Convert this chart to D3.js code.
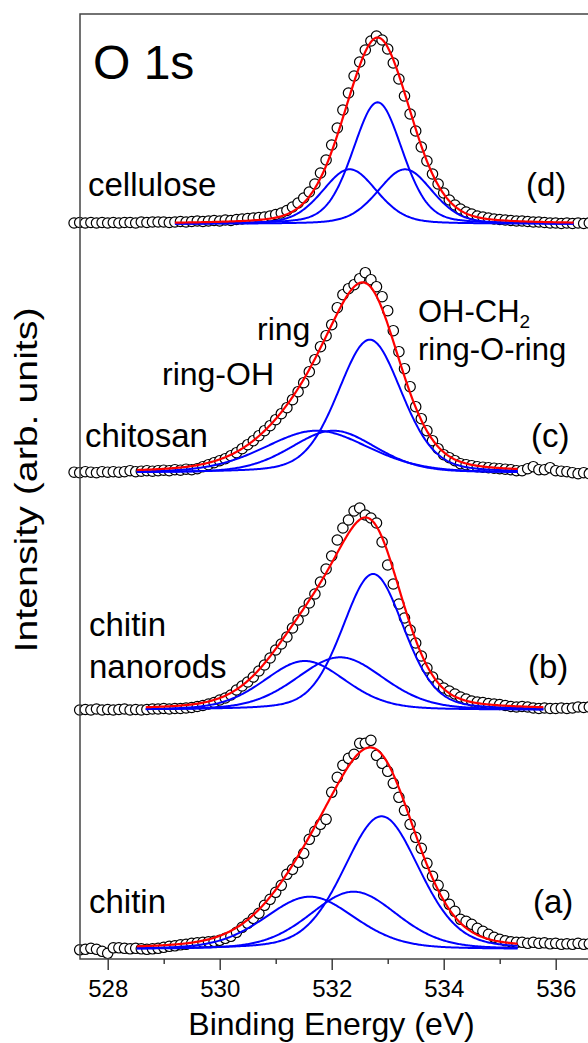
<!DOCTYPE html>
<html><head><meta charset="utf-8">
<script src="https://cdn.jsdelivr.net/npm/d3@7"></script>
<style>
html,body{margin:0;padding:0;background:#fff;overflow:hidden}
svg{display:block}
text{font-family:"Liberation Sans",Arial,Helvetica,sans-serif;fill:#000}
</style></head><body>
<svg id="chart" width="588" height="1043"></svg>
<script>
// ---- data (binding energy in eV, intensity in arb. units above each trace's own baseline)
const energies = [527.4,527.5,527.6,527.7,527.8,527.9,528.0,528.1,
528.2,528.3,528.4,528.5,528.6,528.7,528.8,528.9,529.0,529.1,
529.2,529.3,529.4,529.5,529.6,529.7,529.8,529.9,530.0,530.1,
530.2,530.3,530.4,530.5,530.6,530.7,530.8,530.9,531.0,531.1,
531.2,531.3,531.4,531.5,531.6,531.7,531.8,531.9,532.0,532.1,
532.2,532.3,532.4,532.5,532.6,532.7,532.8,532.9,533.0,533.1,
533.2,533.3,533.4,533.5,533.6,533.7,533.8,533.9,534.0,534.1,
534.2,534.3,534.4,534.5,534.6,534.7,534.8,534.9,535.0,535.1,
535.2,535.3,535.4,535.5,535.6,535.7,535.8,535.9,536.0,536.1,
536.2,536.3,536.4,536.5,536.6];

const chitinData = [null,-0.5,0,1,0,-2,-4,1.5,
1.5,1,0.5,1,0.5,0,0.5,1,2,3,
3.5,4.5,5,6,6.5,7,7.5,8,9,11,
13,17,22,26,31,36,44,50,57,64,
75,80,87,96,110,118,125,130,157,172,
184,191,195,206,206,209,194,186,178,166,
152,139,125,112,101,86,73,64,54,45,
38,30,28,25,21,18,15,12,10,8.5,
7.5,7,7,6,7,6,6.5,5.5,6,5,
5.5,5,6,5,5.5];

const nanorodsData = [null,0,0.5,0,1,0,0.5,0,
0.5,1,0,0.5,0,0.5,1,1,1.5,1,
1.5,1.5,2,2.5,3.5,4.5,6,7.5,10,12,
15,20,24,28,33,39,45,52,60,66,
73,82,90,99,107,116,128,141,154,170,
182,190,199,202,195,192,187,168,145,126,
106,92,80,67,54,42,33,26,22,19,
16,13,11,9,8,7.5,6.5,6,5.5,4.5,
3.5,3,3.5,3,2,1.5,2,1.5,1.5,2,
1.5,2,3,2.5,3];

const chitosanData = [0.5,0,1,0.5,0,1,0.5,1,
0.5,1,2,1,1.5,2,1.5,2,2.5,2,
3,2.5,3.5,3,4,6,8,10,12,14,
17,20,24,28,32,37,42,47,53,59,
65,73,81,90,101,113,126,137,148,165,
178,184,188,194,200,193,186,176,162,142,
121,104,86,66,54,42,32,24,18,15,
12,9,8,7,6,5.5,5,4.5,4,3.5,
3,2,2,4,6,3,3,5,2,1.5,
1,0,-1,0,-1];

const celluloseData = [1,1.5,1,1.5,1,1.5,1,1.5,
1,1.5,1.5,1,2,1.5,2,2,2,1.5,
2,2.5,2,2.5,3,2.5,3,3.5,3,4,
3.5,4.5,5,5.5,6,6.5,7,8,9.5,11,
13.5,17,21,26,32,40,51,64,79,96,
114,131,148,162,174,183,188,184,175,161,
145,128,110,93,77,63,50,40,31,24,
19,15,12,10,8,7,6,5,4.5,4,
3.5,3,3,2.5,2,2,1.5,1,1,0.5,
1,0.5,1,0.5,1];

// fitted components: [centre (eV), height, FWHM (eV)]
const chitinPeaks    = [[531.61,52.6,1.9],[532.39,57.6,1.85],[532.89,133,1.6]];
const nanorodsPeaks  = [[531.52,49,1.72],[532.15,52.7,1.85],[532.74,136,1.3]];
const chitosanPeaks  = [[531.73,42,2.2],[532.03,42,1.8],[532.68,133,1.35]];
const cellulosePeaks = [[532.32,54.7,1.15],[532.82,121.7,1.05],[533.31,54.7,1.15]];
// fit ranges (eV)
const chitinRange    = [528.52,535.33];
const nanorodsRange  = [528.68,535.78];
const chitosanRange  = [528.52,535.33];
const celluloseRange = [529.2,536.32];
// vertical offsets of the stacked spectra (arb. units)
const traceOffsets = [9.7,249,486.3,735];
const lorentzFraction = 0.25;

const majorTicks = [528,530,532,534,536];
const minorTicks = [529,531,533,535];

// ---- drawing
const svg = d3.select("#chart");
const x = d3.scaleLinear().domain([527.5,537]).range([79.7,611.7]);
const y = d3.scaleLinear().domain([0,945]).range([959,14]);

function pv(e,p){
  const r=(e-p[0])/p[2];
  return p[1]*((1-lorentzFraction)*Math.exp(-4*Math.LN2*r*r)+lorentzFraction/(1+4*r*r));
}

const traces = [
  {data:chitinData, peaks:chitinPeaks, range:chitinRange, off:traceOffsets[0]},
  {data:nanorodsData, peaks:nanorodsPeaks, range:nanorodsRange, off:traceOffsets[1]},
  {data:chitosanData, peaks:chitosanPeaks, range:chitosanRange, off:traceOffsets[2]},
  {data:celluloseData, peaks:cellulosePeaks, range:celluloseRange, off:traceOffsets[3]}
];

const line = d3.line().x(d=>x(d[0])).y(d=>y(d[1]));

traces.forEach(t=>{
  const g = svg.append("g");
  const pts = energies.map((e,i)=>[e,t.data[i]]).filter(d=>d[1]!==null && d[1]!==undefined);
  g.selectAll("circle").data(pts).join("circle")
    .attr("cx",d=>x(d[0])).attr("cy",d=>y(t.off+d[1])).attr("r",5.2)
    .attr("fill","#fff").attr("stroke","#000").attr("stroke-width",1.2);
  const grid = d3.range(t.range[0], t.range[1]+1e-6, 0.02);
  t.peaks.forEach(p=>{
    g.append("path").datum(grid.map(e=>[e,t.off+pv(e,p)]))
      .attr("d",line).attr("fill","none").attr("stroke","#0000ff").attr("stroke-width",2);
  });
  g.append("path").datum(grid.map(e=>[e,t.off+d3.sum(t.peaks,p=>pv(e,p))]))
    .attr("d",line).attr("fill","none").attr("stroke","#ff0000").attr("stroke-width",2.2);
});

// frame
svg.append("rect").attr("x",80).attr("y",14).attr("width",540).attr("height",945)
  .attr("fill","none").attr("stroke","#444").attr("stroke-width",1.5);

// axes
const ax = svg.append("g").attr("transform","translate(0,959)")
  .call(d3.axisBottom(x).tickValues(majorTicks).tickSize(11).tickPadding(10).tickFormat(d3.format("d")));
ax.select(".domain").remove();
ax.selectAll("line").attr("stroke","#333").attr("stroke-width",1.4);
ax.selectAll("text").attr("font-size",24).attr("font-family",null);
const axm = svg.append("g").attr("transform","translate(0,959)")
  .call(d3.axisBottom(x).tickValues(minorTicks).tickSize(5).tickFormat(""));
axm.select(".domain").remove();
axm.selectAll("line").attr("stroke","#333").attr("stroke-width",1.4);

// labels
function label(txt,px,py,size,anchor){
  return svg.append("text").attr("x",px).attr("y",py).attr("font-size",size)
    .attr("text-anchor",anchor||"start").text(txt);
}
label("O 1s",93,79,48);
label("cellulose",88,196,33);
label("(d)",526,196,33);
label("chitosan",85,447,33);
label("(c)",531,447,33);
label("ring",257,340,32);
label("ring-OH",162,385,32);
const oh = label("OH-CH",418,322,31);
oh.append("tspan").attr("font-size",19).attr("dy",6).text("2");
label("ring-O-ring",418,360,31);
label("chitin",89,636,33);
label("nanorods",89,678,33);
label("(b)",528,678,33);
label("chitin",89,913,33);
label("(a)",533,913,33);
label("Binding Energy (eV)",331.5,1035,32,"middle");
svg.append("text").attr("transform","translate(37,480) rotate(-90)")
  .attr("text-anchor","middle").attr("font-size",32)
  .attr("textLength",345).attr("lengthAdjust","spacingAndGlyphs")
  .text("Intensity (arb. units)");
</script>
</body></html>
